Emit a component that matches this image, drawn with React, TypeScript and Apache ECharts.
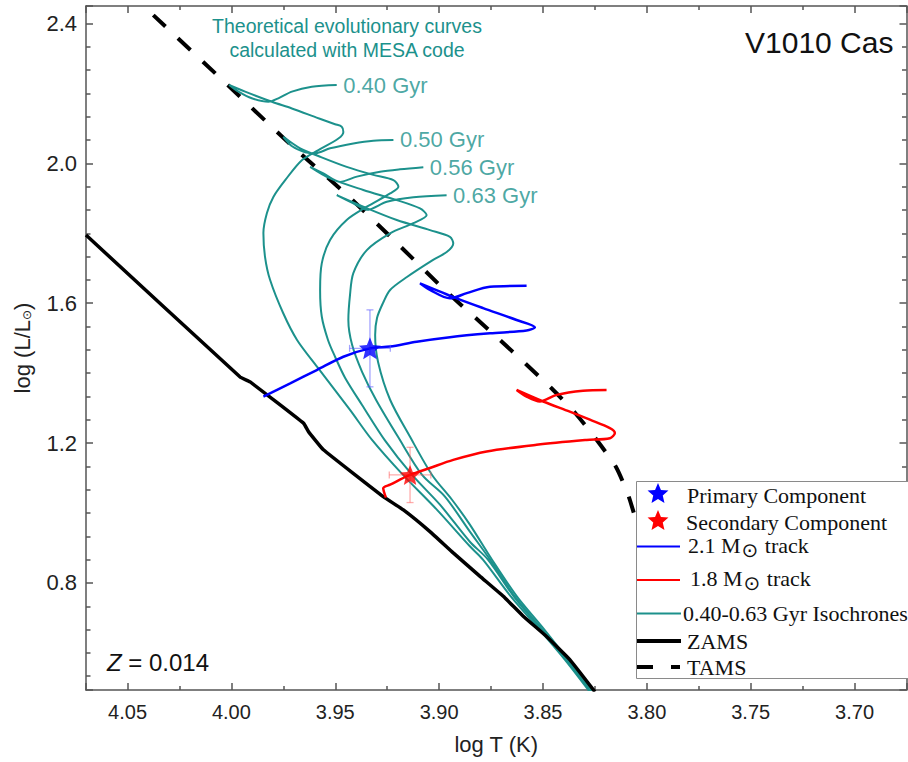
import React, { useEffect, useRef } from 'react';
import * as echarts from 'echarts';

// ---------- data (log T, log L/Lsun) ----------
const zams: number[][] = [
  [4.070, 1.795], [3.9958, 1.389], [3.9910, 1.375], [3.9653, 1.257], [3.9629, 1.233],
  [3.9557, 1.181], [3.9269, 1.047], [3.9172, 1.009], [3.9044, 0.947], [3.8932, 0.886],
  [3.8803, 0.819], [3.8691, 0.762], [3.8595, 0.705], [3.8483, 0.647], [3.8371, 0.581],
  [3.8250, 0.489],
];
const tams: number[][] = [
  [4.0376, 2.424], [3.9991, 2.209], [3.9703, 2.047], [3.9453, 1.915], [3.9203, 1.772],
  [3.8964, 1.633], [3.8707, 1.495], [3.8459, 1.357], [3.8346, 1.287], [3.8241, 1.209],
  [3.8146, 1.129], [3.8082, 1.038], [3.7813, 0.495],
];
const track21: number[][] = [
  [3.9846, 1.333], [3.9717, 1.371], [3.9589, 1.409], [3.9461, 1.447], [3.9333, 1.471],
  [3.9236, 1.476], [3.9108, 1.490], [3.8948, 1.503], [3.8755, 1.514], [3.8579, 1.522],
  [3.8539, 1.531], [3.8627, 1.552], [3.8788, 1.586], [3.8915, 1.614], [3.9092, 1.657],
  [3.9044, 1.638], [3.8948, 1.614], [3.8867, 1.629], [3.8755, 1.647], [3.8579, 1.650],
];
const track18: number[][] = [
  [3.9256, 1.044], [3.9269, 1.071], [3.9236, 1.081], [3.9140, 1.109], [3.9044, 1.129],
  [3.8932, 1.152], [3.8771, 1.176], [3.8531, 1.195], [3.8290, 1.209], [3.8178, 1.214],
  [3.8154, 1.229], [3.8178, 1.243], [3.8274, 1.267], [3.8371, 1.290], [3.8499, 1.319],
  [3.8627, 1.352], [3.8579, 1.333], [3.8515, 1.319], [3.8434, 1.338], [3.8307, 1.350],
  [3.8194, 1.352],
];
const iso040: number[][] = [
  [3.8279, 0.492], [3.8395, 0.581], [3.8529, 0.675], [3.8654, 0.761], [3.8789, 0.867],
  [3.8852, 0.905], [3.9010, 1.009], [3.9174, 1.109], [3.9323, 1.209], [3.9429, 1.295],
  [3.9587, 1.418], [3.9684, 1.495], [3.9751, 1.572], [3.9814, 1.667], [3.9838, 1.732],
  [3.9846, 1.801], [3.9829, 1.858], [3.9798, 1.904], [3.9741, 1.952], [3.9661, 2.009],
  [3.9581, 2.038], [3.9485, 2.071], [3.9461, 2.090], [3.9469, 2.105], [3.9501, 2.112],
  [3.9581, 2.129], [3.9709, 2.157], [3.9805, 2.176], [3.9934, 2.205], [4.0011, 2.224],
  [3.9966, 2.205], [3.9902, 2.186], [3.9822, 2.176], [3.9774, 2.186], [3.9709, 2.205],
  [3.9613, 2.219], [3.9493, 2.224],
];
const iso050: number[][] = [
  [3.8274, 0.492], [3.8390, 0.581], [3.8520, 0.675], [3.8640, 0.761], [3.8765, 0.867],
  [3.8852, 0.918], [3.8996, 1.024], [3.9130, 1.109], [3.9260, 1.207], [3.9371, 1.309],
  [3.9453, 1.387], [3.9501, 1.447], [3.9535, 1.495], [3.9565, 1.562], [3.9573, 1.638],
  [3.9565, 1.714], [3.9525, 1.781], [3.9445, 1.838], [3.9348, 1.876], [3.9236, 1.914],
  [3.9196, 1.933], [3.9220, 1.952], [3.9317, 1.967], [3.9445, 1.990], [3.9573, 2.019],
  [3.9669, 2.043], [3.9750, 2.076], [3.9708, 2.049], [3.9645, 2.032], [3.9597, 2.029],
  [3.9525, 2.043], [3.9413, 2.057], [3.9317, 2.065], [3.9220, 2.067],
];
const iso056: number[][] = [
  [3.8269, 0.492], [3.8385, 0.581], [3.8515, 0.675], [3.8635, 0.761], [3.8755, 0.867],
  [3.8852, 0.947], [3.8972, 1.047], [3.9082, 1.109], [3.9198, 1.218], [3.9304, 1.324],
  [3.9371, 1.404], [3.9419, 1.481], [3.9437, 1.552], [3.9429, 1.624], [3.9413, 1.686],
  [3.9348, 1.752], [3.9236, 1.800], [3.9124, 1.829], [3.9060, 1.852], [3.9092, 1.871],
  [3.9204, 1.895], [3.9365, 1.924], [3.9525, 1.957], [3.9621, 1.990], [3.9557, 1.971],
  [3.9477, 1.947], [3.9396, 1.962], [3.9284, 1.976], [3.9188, 1.983], [3.9076, 1.989],
];
const iso063: number[][] = [
  [3.8265, 0.492], [3.8380, 0.581], [3.8505, 0.675], [3.8625, 0.761], [3.8746, 0.867],
  [3.8852, 0.967], [3.8938, 1.038], [3.9034, 1.109], [3.9140, 1.218], [3.9236, 1.324],
  [3.9294, 1.432], [3.9308, 1.509], [3.9299, 1.558], [3.9270, 1.601], [3.9236, 1.638],
  [3.9155, 1.675], [3.9029, 1.724], [3.8962, 1.747], [3.8932, 1.771], [3.8948, 1.790],
  [3.9044, 1.809], [3.9204, 1.838], [3.9365, 1.876], [3.9493, 1.909], [3.9413, 1.886],
  [3.9348, 1.867], [3.9252, 1.890], [3.9124, 1.903], [3.8964, 1.909],
];
const isoLabels = ['0.40 Gyr', '0.50 Gyr', '0.56 Gyr', '0.63 Gyr'];
// [logT, logL, errT, errL]
const primaryStar: number[][] = [[3.9333, 1.471, 0.0098, 0.110]];
const secondaryStar: number[][] = [[3.9140, 1.109, 0.0100, 0.079]];

const xTickLabels = ['4.05', '4.00', '3.95', '3.90', '3.85', '3.80', '3.75', '3.70'];
const yTickLabels = ['0.8', '1.2', '1.6', '2.0', '2.4'];

// ---------- styling ----------
const TEAL = '#1c918c';
const SANS = '"Liberation Sans", Arial, sans-serif';
const SERIF = '"Liberation Serif", "Times New Roman", serif';
const AX = '#555';
const STAR = 'path://M0,-10L2.645,-3.641L9.511,-3.09L4.28,1.391L5.878,8.09L0,4.5L-5.878,8.09L-4.28,1.391L-9.511,-3.09L-2.645,-3.641Z';

function starPts(cx: number, cy: number, R: number, r: number) {
  const pts: number[][] = [];
  for (let i = 0; i < 10; i++) {
    const a = -Math.PI / 2 + (i * Math.PI) / 5;
    const rad = i % 2 === 0 ? R : r;
    pts.push([cx + rad * Math.cos(a), cy + rad * Math.sin(a)]);
  }
  return pts;
}

function errSeries(data: number[][], color: string) {
  return {
    type: 'custom',
    data,
    encode: { x: 0, y: 1 },
    z: 4,
    renderItem: (_p: any, api: any) => {
      const t = api.value(0), l = api.value(1), dt = api.value(2), dl = api.value(3);
      const top = api.coord([t, l + dl]);
      const bot = api.coord([t, l - dl]);
      const lft = api.coord([t + dt, l]);
      const rgt = api.coord([t - dt, l]);
      const c = 3.5;
      const st = { stroke: color, lineWidth: 1.3 };
      const ln = (x1: number, y1: number, x2: number, y2: number) => ({ type: 'line', shape: { x1, y1, x2, y2 }, style: st });
      return {
        type: 'group',
        children: [
          ln(top[0], top[1], bot[0], bot[1]),
          ln(top[0] - c, top[1], top[0] + c, top[1]),
          ln(bot[0] - c, bot[1], bot[0] + c, bot[1]),
          ln(lft[0], lft[1], rgt[0], rgt[1]),
          ln(lft[0], lft[1] - c, lft[0], lft[1] + c),
          ln(rgt[0], rgt[1] - c, rgt[0], rgt[1] + c),
        ],
      };
    },
  };
}

const axisLineStyle = { color: AX, width: 1.5 };

function xAxisDef(bottom: boolean) {
  return {
    type: 'value',
    position: bottom ? 'bottom' : 'top',
    min: 3.675,
    max: 4.07,
    inverse: true,
    splitNumber: 8,
    minInterval: 0.05,
    maxInterval: 0.05,
    name: bottom ? 'log T (K)' : '',
    nameLocation: 'middle',
    nameGap: 43,
    nameTextStyle: { fontSize: 22, fontFamily: SANS, color: '#222' },
    axisLine: { show: true, onZero: false, lineStyle: axisLineStyle },
    axisTick: { show: true, inside: true, length: 7, lineStyle: axisLineStyle },
    minorTick: { show: true, splitNumber: 2, length: 4, lineStyle: axisLineStyle },
    splitLine: { show: false },
    minorSplitLine: { show: false },
    axisLabel: {
      show: bottom,
      showMinLabel: false,
      showMaxLabel: false,
      margin: 12,
      fontSize: 20,
      fontFamily: SANS,
      color: '#222',
      formatter: (v: number) => {
        const s = v.toFixed(2);
        return xTickLabels.includes(s) ? s : '';
      },
    },
  };
}

function yAxisDef(left: boolean) {
  return {
    type: 'value',
    position: left ? 'left' : 'right',
    min: 0.494,
    max: 2.45,
    splitNumber: 5,
    minInterval: 0.4,
    maxInterval: 0.4,
    name: left ? 'log (L/L{s|⊙})' : '',
    nameLocation: 'middle',
    nameGap: 53,
    nameTextStyle: {
      fontSize: 22, fontFamily: SANS, color: '#222',
      rich: { s: { fontSize: 12, fontFamily: '"DejaVu Sans", sans-serif', color: '#222', padding: [10, 0, 0, 0] } },
    },
    axisLine: { show: true, onZero: false, lineStyle: axisLineStyle },
    axisTick: { show: true, inside: true, length: 7, lineStyle: axisLineStyle },
    minorTick: { show: true, splitNumber: 6, length: 4.5, lineStyle: axisLineStyle },
    splitLine: { show: false },
    minorSplitLine: { show: false },
    axisLabel: {
      show: left,
      showMinLabel: false,
      showMaxLabel: false,
      margin: 9,
      fontSize: 22,
      fontFamily: SANS,
      color: '#222',
      formatter: (v: number) => {
        const s = v.toFixed(1);
        return yTickLabels.includes(s) ? s : '';
      },
    },
  };
}

function lineSeries(name: string, data: number[][], color: string, width: number, extra: any = {}) {
  return {
    name,
    type: 'line',
    data,
    showSymbol: false,
    symbol: 'none',
    smooth: extra.smooth ?? 0.3,
    clip: true,
    lineStyle: { color, width, ...(extra.lineStyle || {}) },
    z: extra.z ?? 2,
    silent: true,
  };
}

// ---------- legend (drawn with graphic) ----------
const LX = 636.5, LY = 481.5, LW = 272, LH = 197;
const lgText = (x: number, y: number, text: string, rich?: any) => ({
  type: 'text', x, y, z: 102,
  style: { text, fontSize: 22, fontFamily: SERIF, fill: '#111', verticalAlign: 'middle', align: 'left', rich },
});
const lgLine = (x1: number, x2: number, y: number, color: string, w: number) => ({
  type: 'line', z: 102, shape: { x1, y1: y, x2, y2: y }, style: { stroke: color, lineWidth: w },
});
const sunRich = { o: { fontSize: 20, fontFamily: '"DejaVu Sans", sans-serif', fill: '#111', padding: [9, 1, 0, 1] } };

const legendGraphic = [
  { type: 'rect', z: 101, shape: { x: LX, y: LY, width: LW, height: LH }, style: { fill: '#fff', stroke: '#8a8a8a', lineWidth: 1 } },
  { type: 'polygon', z: 102, shape: { points: starPts(658, 494, 11, 5) }, style: { fill: '#0000ff' } },
  lgText(687, 495, 'Primary Component'),
  { type: 'polygon', z: 102, shape: { points: starPts(658, 521, 11, 5) }, style: { fill: '#ff0000' } },
  lgText(686, 522, 'Secondary Component'),
  lgLine(637, 680, 546.5, '#0000ff', 2.2),
  lgText(688, 545, '2.1 M{o|⊙} track', sunRich),
  lgLine(637, 680, 580, '#ff0000', 2.2),
  lgText(690, 578, '1.8 M{o|⊙} track', sunRich),
  lgLine(637, 681, 613.5, TEAL, 2),
  lgText(683, 613, '0.40-0.63 Gyr Isochrones'),
  lgLine(637, 681, 641, '#000', 4),
  lgText(687, 641, 'ZAMS'),
  lgLine(637, 653, 667, '#000', 4),
  lgLine(671, 680, 667, '#000', 4),
  lgText(687, 667, 'TAMS'),
];

const option: any = {
  animation: false,
  backgroundColor: '#fff',
  grid: { left: 86, top: 6, right: 1.5, bottom: 72, containLabel: false },
  xAxis: [xAxisDef(true), xAxisDef(false)],
  yAxis: [yAxisDef(true), yAxisDef(false)],
  series: [
    lineSeries('ZAMS', zams, '#000', 3.5, { z: 3, smooth: 0.1 }),
    { ...lineSeries('TAMS', tams, '#000', 4), smooth: 0.2, lineStyle: { color: '#000', width: 4, type: [17, 17] } },
    lineSeries(isoLabels[0], iso040, TEAL, 2),
    lineSeries(isoLabels[1], iso050, TEAL, 2),
    lineSeries(isoLabels[2], iso056, TEAL, 2),
    lineSeries(isoLabels[3], iso063, TEAL, 2),
    lineSeries('2.1 M track', track21, '#0000ff', 2.5, { z: 3 }),
    lineSeries('1.8 M track', track18, '#ff0000', 2.5, { z: 3 }),
    errSeries(primaryStar, 'rgba(90,90,255,0.55)'),
    errSeries(secondaryStar, 'rgba(255,90,90,0.5)'),
    {
      name: 'Primary Component', type: 'scatter', symbol: STAR, symbolSize: 22, z: 5,
      data: primaryStar.map((d) => [d[0], d[1]]), itemStyle: { color: '#0000ff' }, silent: true,
    },
    {
      name: 'Secondary Component', type: 'scatter', symbol: STAR, symbolSize: 20, z: 5,
      data: secondaryStar.map((d) => [d[0], d[1]]), itemStyle: { color: '#ff0000' }, silent: true,
    },
    {
      name: 'isochrone labels', type: 'scatter', symbolSize: 1, z: 6, silent: true,
      itemStyle: { color: 'rgba(0,0,0,0)' },
      data: [iso040, iso050, iso056, iso063].map((arr, i) => ({ value: arr[arr.length - 1], name: isoLabels[i] })),
      label: { show: true, position: 'right', distance: 6, formatter: '{b}', color: TEAL, fontSize: 22, fontFamily: SANS },
    },
  ],
  graphic: [
    {
      type: 'text', x: 347, y: 26, z: 50,
      style: { text: 'Theoretical evolutionary curves', fontSize: 19.5, fontFamily: SANS, fill: TEAL, align: 'center', verticalAlign: 'middle' },
    },
    {
      type: 'text', x: 347, y: 50, z: 50,
      style: { text: 'calculated with MESA code', fontSize: 19.5, fontFamily: SANS, fill: TEAL, align: 'center', verticalAlign: 'middle' },
    },
    {
      type: 'text', x: 745, y: 42, z: 50,
      style: { text: 'V1010 Cas', fontSize: 30, fontFamily: SANS, fill: '#111', align: 'left', verticalAlign: 'middle' },
    },
    {
      type: 'text', x: 107, y: 662, z: 50,
      style: {
        text: '{i|Z} = 0.014', fontSize: 24, fontFamily: SANS, fill: '#111', align: 'left', verticalAlign: 'middle',
        rich: { i: { fontSize: 24, fontFamily: SANS, fontStyle: 'italic', fill: '#111' } },
      },
    },
    ...legendGraphic,
  ],
};

export default function App() {
  const ref = useRef<HTMLDivElement>(null);
  useEffect(() => {
    if (!ref.current) return;
    const chart = echarts.init(ref.current, null, { renderer: 'svg' });
    chart.setOption(option);
    return () => chart.dispose();
  }, []);
  return (
    <div
      ref={ref}
      style={{ position: 'fixed', left: 0, top: 0, width: 908, height: 762, background: '#fff' }}
    />
  );
}
